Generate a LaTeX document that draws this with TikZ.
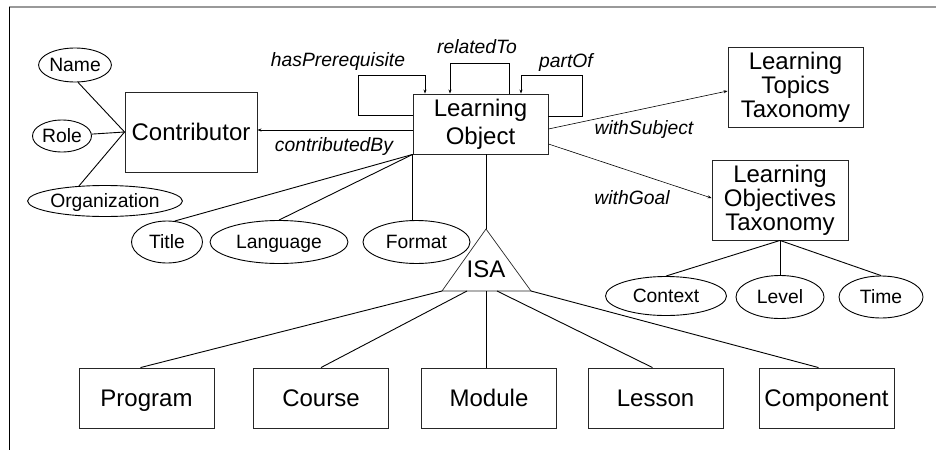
\documentclass[tikz,border=0pt]{standalone}
\usepackage{fontspec}
\setmainfont{Liberation Sans}
\usetikzlibrary{arrows.meta,shapes.geometric}
\begin{document}
\begin{tikzpicture}[x=1pt,y=-1pt,
  ent/.style={draw=black!85,line width=0.9pt,inner sep=0pt,minimum width=135pt,minimum height=60pt,align=center,font=\fontsize{24}{24}\selectfont},
  one/.style={text height=17.2pt,text depth=0pt},
  attr/.style={draw=black,line width=0.9pt,ellipse,inner sep=0pt,text height=13.8pt,text depth=0pt,font=\fontsize{19.3}{19.3}\selectfont},
  lbl/.style={font=\fontsize{19.3}{19.3}\selectfont\itshape,inner sep=0pt},
  conn/.style={line width=0.9pt},
  arr/.style={line width=0.6pt,-{Stealth[length=4pt,width=3pt]}}
]
\useasboundingbox (0,0) rectangle (936,450);
\draw[gray!80,line width=1.2pt] (9,7) -- (936,7);
\draw[black,line width=1pt] (9,7) -- (9,450);

% entities
\node[ent,one,minimum width=132pt,minimum height=80pt] (contrib) at (191,132) {Contributor};
\node[ent,font=\fontsize{24}{28}\selectfont] (lo) at (480.5,124) {Learning\\Object};
\node[ent,minimum width=135pt,minimum height=80pt] (ltt) at (795.5,87) {Learning\\Topics\\Taxonomy};
\node[ent,minimum width=136pt,minimum height=80pt] (lot) at (780,200) {Learning\\Objectives\\Taxonomy};
\node[ent,one] (program) at (146.5,398) {Program};
\node[ent,one] (course) at (321,398) {Course};
\node[ent,one] (module) at (489,398) {Module};
\node[ent,one] (lesson) at (655.5,398) {Lesson};
\node[ent,one] (component) at (826.5,398) {Component};

% attributes
\node[attr,minimum width=69pt,minimum height=34pt] (name) at (75,65) {Name};
\node[attr,minimum width=59pt,minimum height=32pt] (role) at (62,136) {Role};
\node[attr,minimum width=135pt,minimum height=31pt] (org) at (105,201) {Organization};
\node[attr,minimum width=71pt,minimum height=42pt] (title) at (167,242) {Title};
\node[attr,minimum width=138pt,minimum height=43pt] (language) at (279,242) {Language};
\node[attr,minimum width=107pt,minimum height=43pt] (format) at (416.5,242) {Format};
\node[attr,minimum width=121pt,minimum height=39pt] (context) at (666,296) {Context};
\node[attr,minimum width=88pt,minimum height=43pt] (level) at (780,297) {Level};
\node[attr,minimum width=84pt,minimum height=42pt] (time) at (881,297) {Time};

% ISA triangle
\coordinate (isaT) at (486,229);
\coordinate (isaL) at (442,291);
\coordinate (isaR) at (531,291);
\draw[line width=0.7pt,black!85] (isaT) -- (isaL) -- (isaR) -- cycle;
\node[inner sep=0pt,text height=17.2pt,text depth=0pt,font=\fontsize{24}{24}\selectfont] (isa) at (486,269) {ISA};

% attribute connectors
\draw[conn] (name.-80) -- (contrib.west);
\draw[conn] (role) -- (contrib.west);
\draw[conn] (org.150) -- (contrib.west);
\draw[conn] (lo.south west) -- (title.70);
\draw[conn] (lo.south west) -- (language.north);
\draw[conn] (lo.south west) -- (lo.south west |- format.north);
\draw[conn] (lot.south) -- (context.north);
\draw[conn] (lot.south) -- (level.north);
\draw[conn] (lot.south) -- (time.north);

% ISA connectors
\draw[conn] (lo.south -| isaT) -- (isaT);
\draw[conn] (isaL) -- ([xshift=-6pt]program.north);
\draw[conn] (isaL -| 467,0) -- (course.north);
\draw[conn] (isaT |- isaL) -- (module.north -| isaT);
\draw[conn] (isaL -| 497,0) -- ([xshift=-3pt]lesson.north);
\draw[conn] (isaR) -- ([xshift=-8pt]component.north);

% relationships
\draw[arr] ([yshift=-6pt]lo.west) -- ([yshift=-6pt]lo.west -| contrib.east);
\node[lbl] (cbl) at (334,147) {contributedBy};
\draw[arr] ([yshift=-5pt]lo.east) -- ([yshift=-4pt]ltt.west);
\node[lbl] (wsl) at (644,130) {withSubject};
\draw[arr] ([yshift=-20pt]lo.east) -- ([yshift=2pt]lot.west);
\node[lbl] (wgl) at (632,198) {withGoal};

% self loops
\coordinate (hpA) at (358,115);
\coordinate (hpB) at (425,75);
\draw[arr] (lo.west |- hpA) -- (hpA) |- (hpB) -- (lo.north -| hpB);
\node[lbl] (hpl) at (338,62) {hasPrerequisite};
\coordinate (rtA) at (509,63);
\coordinate (rtB) at (450,63);
\draw[arr] (lo.north -| rtA) -- (rtA) -- (rtB) -- (lo.north -| rtB);
\node[lbl] (rtl) at (477,47) {relatedTo};
\coordinate (poA) at (582,116);
\coordinate (poB) at (521,75);
\draw[arr] (lo.east |- poA) -- (poA) |- (poB) -- (lo.north -| poB);
\node[lbl] (pol) at (566,63) {partOf};
\end{tikzpicture}
\end{document}
